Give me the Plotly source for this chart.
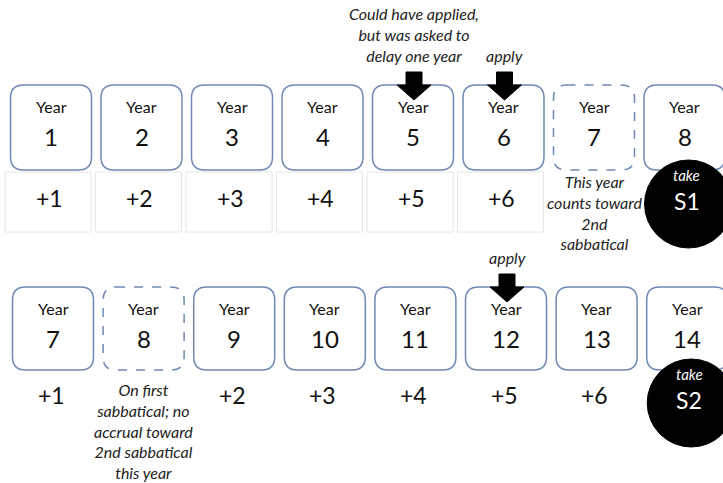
import plotly.graph_objects as go

# ---- data ----
row1_years = [1, 2, 3, 4, 5, 6, 7, 8]
row1_counts = ["+1", "+2", "+3", "+4", "+5", "+6"]
row1_dashed = [7]
row1_apply = {5: "Could have applied,<br>but was asked to<br>delay one year", 6: "apply"}
row1_take = {8: "S1"}
row1_notes = {7: "This year<br>counts toward<br>2nd<br>sabbatical"}

row2_years = [7, 8, 9, 10, 11, 12, 13, 14]
row2_counts = ["+1", "", "+2", "+3", "+4", "+5", "+6"]
row2_dashed = [8]
row2_apply = {12: "apply"}
row2_take = {14: "S2"}
row2_notes = {8: "On first<br>sabbatical; no<br>accrual toward<br>2nd sabbatical<br>this year"}

# ---- layout constants ----
W, H = 723, 483
FONT = "Lato, 'Open Sans', sans-serif"
BORDER = "#7088b4"
rows = [
    dict(years=row1_years, counts=row1_counts, dashed=row1_dashed, apply=row1_apply,
         take=row1_take, notes=row1_notes, x0=51, step=90.5, top=85, bot=170,
         cells=True, count_y=198, circle_y=204, note_y=212),
    dict(years=row2_years, counts=row2_counts, dashed=row2_dashed, apply=row2_apply,
         take=row2_take, notes=row2_notes, x0=53, step=90.6, top=287, bot=370,
         cells=False, count_y=395, circle_y=403, note_y=431),
]
BW = 81
R = 13


def rrect(x0, y0, x1, y1, r):
    return (f"M {x0+r},{y0} L {x1-r},{y0} Q {x1},{y0} {x1},{y0+r} "
            f"L {x1},{y1-r} Q {x1},{y1} {x1-r},{y1} L {x0+r},{y1} "
            f"Q {x0},{y1} {x0},{y1-r} L {x0},{y0+r} Q {x0},{y0} {x0+r},{y0} Z")


shapes = []
ann = []

for row in rows:
    top, bot = row["top"], row["bot"]
    for i, yr in enumerate(row["years"]):
        cx = row["x0"] + i * row["step"]
        # count cell
        if row["cells"] and i < len(row["counts"]):
            shapes.append(dict(type="rect", x0=cx - 46, x1=cx + 40, y0=bot + 2, y1=bot + 62,
                               line=dict(color="#e6e6e6", width=1), layer="below"))
        # count label
        if i < len(row["counts"]) and row["counts"][i]:
            ann.append(dict(x=cx - 2, y=row["count_y"], text=row["counts"][i], showarrow=False,
                            font=dict(family=FONT, size=23, color="#111")))
        # year box
        shapes.append(dict(type="path", path=rrect(cx - BW / 2, top, cx + BW / 2, bot, R),
                           fillcolor="white",
                           line=dict(color=BORDER, width=1.5,
                                     dash="dash" if yr in row["dashed"] else "solid")))
        ann.append(dict(x=cx, y=top + 21, text="Year", showarrow=False,
                        font=dict(family=FONT, size=16, color="#111")))
        ann.append(dict(x=cx, y=top + 51, text=str(yr), showarrow=False,
                        font=dict(family=FONT, size=24, color="#111")))
        # take circle (drawn over the box)
        if yr in row["take"]:
            cy = row["circle_y"]
            rr = 44
            shapes.append(dict(type="circle", x0=cx + 4 - rr, x1=cx + 4 + rr,
                               y0=cy - rr, y1=cy + rr, fillcolor="black",
                               line=dict(color="black", width=1)))
            ann.append(dict(x=cx + 2, y=cy - 19, text="<i>take</i>", showarrow=False,
                            yanchor="bottom", borderpad=0,
                            font=dict(family=FONT, size=15, color="white")))
            ann.append(dict(x=cx + 2, y=cy - 18, text=row["take"][yr], showarrow=False,
                            yanchor="top", borderpad=0,
                            font=dict(family=FONT, size=23, color="white")))
        # apply arrow
        if yr in row["apply"]:
            ax = cx + 1
            tip = top + 15
            path = (f"M {ax-8},{top-13} L {ax+8},{top-13} L {ax+8},{top} L {ax+17},{top} "
                    f"L {ax},{tip} L {ax-17},{top} L {ax-8},{top} Z")
            shapes.append(dict(type="path", path=path, fillcolor="black",
                               line=dict(color="black", width=1)))
            txt = row["apply"][yr]
            ann.append(dict(x=ax, y=top - 18, text=f"<i>{txt}</i>", showarrow=False,
                            yanchor="bottom",
                            font=dict(family=FONT, size=16, color="#222")))
        # notes
        if yr in row["notes"]:
            ann.append(dict(x=cx, y=row["note_y"], text=f"<i>{row['notes'][yr]}</i>",
                            showarrow=False, yanchor="middle",
                            font=dict(family=FONT, size=16, color="#222")))

fig = go.Figure()
fig.update_layout(
    width=W, height=H, margin=dict(l=0, r=0, t=0, b=0),
    paper_bgcolor="white", plot_bgcolor="white",
    xaxis=dict(range=[0, W], visible=False, fixedrange=True),
    yaxis=dict(range=[H, 0], visible=False, fixedrange=True),
    shapes=shapes, annotations=ann, showlegend=False,
)
fig.write_html("out.html", config={"displayModeBar": False},
               post_script="document.body.style.margin='0px';document.body.style.overflow='hidden';")
